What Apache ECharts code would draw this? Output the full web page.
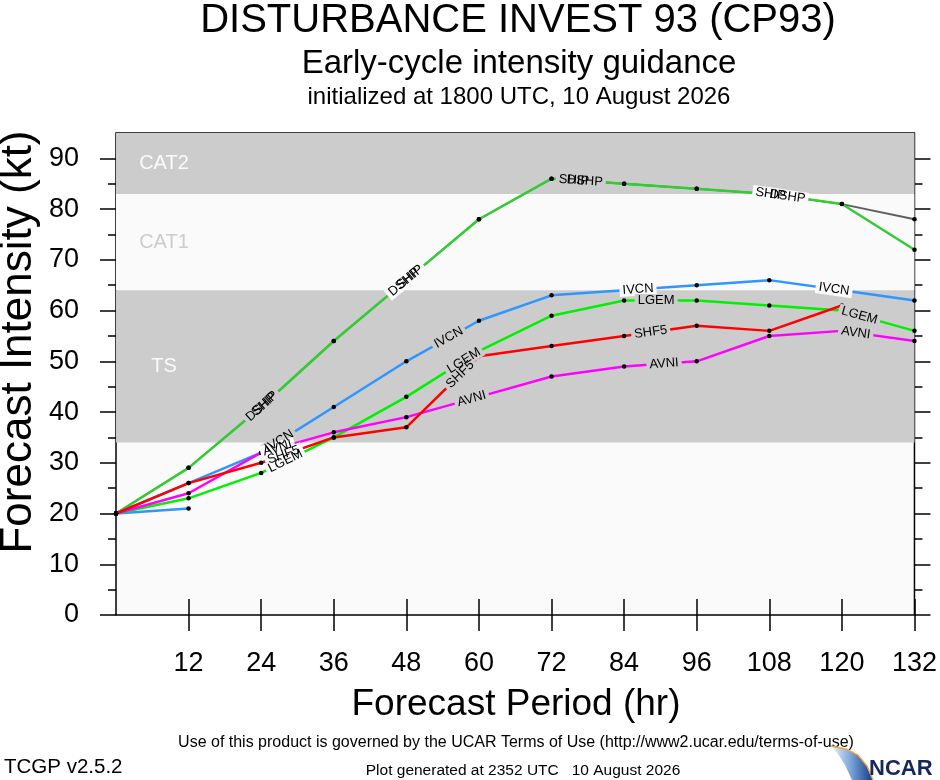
<!DOCTYPE html>
<html>
<head>
<meta charset="utf-8">
<script src="https://cdn.jsdelivr.net/npm/echarts@6/dist/echarts.min.js"></script>
<style>
html, body { margin: 0; padding: 0; background: #fff; }
#chart { width: 940px; height: 780px; }
</style>
</head>
<body>
<div id="chart"></div>
<script>
// forecast hours and model intensities (kt)
var hours = [0, 12, 24, 36, 48, 60, 72, 84, 96, 108, 120, 132];
var shipVals = [20, 29, 41, 54, 66, 78, 86, 85, 84, 83, 81, 78];
var dshpVals = [20, 29, 41, 54, 66, 78, 86, 85, 84, 83, 81, 72];
var ivcnVals = [20, 26, 32, 41, 50, 58, 63, 64, 65, 66, 64, 62];
var lgemVals = [20, 23, 28, 35, 43, 52, 59, 62, 62, 61, 60, 56];
var shf5Vals = [20, 26, 30, 35, 37, 51, 53, 55, 57, 56, 61, null];
var avniVals = [20, 24, 32, 36, 39, 43, 47, 49, 50, 55, 56, 54];
var shortVals = [20, 21];   // unlabeled blue line, 0-12 h only

var xTicks = [12, 24, 36, 48, 60, 72, 84, 96, 108, 120, 132];
var yMajor = [0, 10, 20, 30, 40, 50, 60, 70, 80, 90];
var yMinor = [5, 15, 25, 35, 45, 55, 65, 75, 85];

// intensity categories
var bandNames = ['CAT2', 'CAT1', 'TS'];
var bandLow = [83, 64, 34];
var bandHigh = [95, 83, 64];

var FONT = '"Liberation Sans", Arial, Helvetica, sans-serif';

var modelNames = ['SHIP', 'DSHP', 'IVCN', 'LGEM', 'SHF5', 'AVNI'];
var valsOf = { SHIP: shipVals, DSHP: dshpVals, IVCN: ivcnVals, LGEM: lgemVals, SHF5: shf5Vals, AVNI: avniVals };
var colorOf = { SHIP: '#5f5f5f', DSHP: '#33cc33', IVCN: '#2f95ff', LGEM: '#00f000', SHF5: '#ff0000', AVNI: '#ff00ff' };
// where along each line NCL put its name (forecast hour)
var labelAt = {
    SHIP: [24.6, 48.6, 75.7, 108.2],
    DSHP: [24, 47.6, 77.5, 111],
    IVCN: [27, 55, 86.3, 118.7],
    LGEM: [28, 57.5, 89.3, 122.9],
    SHF5: [27.7, 56.9, 88.4],
    AVNI: [26.7, 58.8, 90.6, 122.3]
};

function pairs(vals) {
    var out = [];
    for (var i = 0; i < vals.length; i++) {
        if (vals[i] != null) out.push([hours[i], vals[i]]);
    }
    return out;
}

function segIndex(h) {
    var i = 0;
    while (i < hours.length - 2 && hours[i + 1] <= h) i++;
    return i;
}

function valueAt(vals, h) {
    var i = segIndex(h);
    var t = (h - hours[i]) / (hours[i + 1] - hours[i]);
    return vals[i] + (vals[i + 1] - vals[i]) * t;
}

var labelData = [];
modelNames.forEach(function (m, k) {
    labelAt[m].forEach(function (h) {
        labelData.push([h, valueAt(valsOf[m], h), k]);
    });
});

function bandColor(v) {
    return ((v >= 34 && v < 64) || v >= 83) ? '#cccccc' : '#fafafa';
}

function labelRenderer(withText) {
    return function (params, api) {
        var h = api.value(0), v = api.value(1);
        var m = modelNames[api.value(2)];
        var vals = valsOf[m];
        var i = segIndex(h);
        var p1 = api.coord([hours[i], vals[i]]);
        var p2 = api.coord([hours[i + 1], vals[i + 1]]);
        var ang = -Math.atan2(p2[1] - p1[1], p2[0] - p1[0]);
        var p = api.coord([h, v]);
        return {
            type: 'text',
            x: p[0],
            y: p[1],
            rotation: ang,
            style: {
                text: m,
                font: '13px ' + FONT,
                fill: withText ? '#000' : 'rgba(0,0,0,0)',
                align: 'center',
                verticalAlign: 'middle',
                backgroundColor: withText ? null : bandColor(v),
                padding: [0, 3]
            }
        };
    };
}

var bandAreas = bandNames.map(function (name, i) {
    var gray = name !== 'CAT1';
    return [{
        name: name,
        yAxis: bandLow[i],
        itemStyle: { color: gray ? '#cccccc' : '#fafafa' },
        label: { color: gray ? '#fafafa' : '#cccccc' }
    }, { yAxis: bandHigh[i] }];
});

var series = [{
    type: 'line',
    data: [],
    z: 1,
    silent: true,
    markArea: {
        silent: true,
        label: {
            show: true,
            position: 'insideLeft',
            distance: 48,
            align: 'center',
            fontSize: 20,
            fontFamily: FONT
        },
        data: bandAreas
    }
}];

function lineSeries(name, vals, color, width) {
    return {
        name: name,
        type: 'line',
        data: pairs(vals),
        z: 2,
        symbol: 'circle',
        symbolSize: 4.5,
        showAllSymbol: true,
        itemStyle: { color: '#000' },
        lineStyle: { color: color, width: width || 2.5 },
        emphasis: { disabled: true },
        silent: true
    };
}

series.push(lineSeries('SHIP', shipVals, colorOf.SHIP, 1.8));
series.push(lineSeries('DSHP', dshpVals, colorOf.DSHP));
series.push(lineSeries('short', shortVals, colorOf.IVCN));
series.push(lineSeries('IVCN', ivcnVals, colorOf.IVCN));
series.push(lineSeries('LGEM', lgemVals, colorOf.LGEM));
series.push(lineSeries('AVNI', avniVals, colorOf.AVNI));
series.push(lineSeries('SHF5', shf5Vals, colorOf.SHF5));

series.push({
    type: 'custom',
    coordinateSystem: 'cartesian2d',
    renderItem: labelRenderer(false),
    data: labelData,
    encode: { x: 0, y: 1 },
    z: 3,
    silent: true,
    clip: false
});
series.push({
    type: 'custom',
    coordinateSystem: 'cartesian2d',
    renderItem: labelRenderer(true),
    data: labelData,
    encode: { x: 0, y: 1 },
    z: 4,
    silent: true,
    clip: false
});

function tick(values, len, label, pos) {
    return {
        type: 'value',
        min: 0,
        position: pos,
        axisLine: { show: false },
        splitLine: { show: false },
        axisTick: { show: true, inside: false, length: len, customValues: values, lineStyle: { color: '#000', width: 1.5 } },
        axisLabel: label
    };
}

var yLab = { show: true, customValues: yMajor, fontSize: 27, color: '#000', margin: 37, fontFamily: FONT };
var xLab = { show: true, customValues: xTicks, fontSize: 27, color: '#000', margin: 35, fontFamily: FONT };

var yAxes = [
    tick(yMajor, 16, yLab, 'left'),
    tick(yMinor, 8, { show: false }, 'left'),
    tick(yMajor, 16, { show: false }, 'right'),
    tick(yMinor, 8, { show: false }, 'right')
];
yAxes.forEach(function (a) { a.max = 95; });

var xAxes = [
    tick(xTicks, 16, xLab, 'bottom'),
    tick(xTicks, 16, { show: false }, 'top')
];
xAxes.forEach(function (a) { a.max = 132; });

function txt(x, y, text, size, extra) {
    var s = {
        text: text,
        font: size + 'px ' + FONT,
        fill: '#000',
        align: 'center',
        verticalAlign: 'middle'
    };
    var el = { type: 'text', x: x, y: y, style: s, z: 10 };
    if (extra) {
        for (var k in extra) {
            if (k === 'style') { for (var q in extra.style) s[q] = extra.style[q]; }
            else el[k] = extra[k];
        }
    }
    return el;
}

var graphics = [
    txt(518, 21, 'DISTURBANCE INVEST 93 (CP93)', 40),
    txt(519, 64, 'Early-cycle intensity guidance', 33),
    txt(519, 97, 'initialized at 1800 UTC, 10 August 2026', 24),
    txt(516, 705, 'Forecast Period (hr)', 37),
    txt(19, 342, 'Forecast Intensity (kt)', 44, { rotation: Math.PI / 2 }),
    txt(516, 743, 'Use of this product is governed by the UCAR Terms of Use (http://www2.ucar.edu/terms-of-use)', 16),
    txt(4, 767, 'TCGP v2.5.2', 20.5, { style: { align: 'left' } }),
    txt(523, 771, 'Plot generated at 2352 UTC   10 August 2026', 15.5),
    {
        type: 'polygon',
        shape: { points: [[831, 746], [846, 749], [858, 755], [867, 766], [873, 780], [852, 780], [845, 765], [838, 754]] },
        style: {
            fill: new echarts.graphic.LinearGradient(0, 0, 1, 0, [
                { offset: 0, color: '#eef4fb' },
                { offset: 0.45, color: '#7fa9dc' },
                { offset: 1, color: '#123a8c' }
            ])
        },
        z: 10
    },
    {
        type: 'polyline',
        shape: { points: [[831, 746], [846, 749], [858, 755], [867, 766], [873, 780]] },
        style: { stroke: '#f2a545', lineWidth: 1.5, fill: null },
        z: 10
    },
    txt(869, 769, 'NCAR', 22, { style: { align: 'left', fill: '#14285a', font: 'bold 22px ' + FONT } })
];

var option = {
    backgroundColor: '#ffffff',
    animation: false,
    textStyle: { fontFamily: FONT },
    grid: {
        left: 116,
        right: 23,
        top: 133,
        bottom: 165,
        show: true,
        backgroundColor: '#fafafa',
        borderColor: '#000',
        borderWidth: 1.5
    },
    xAxis: xAxes,
    yAxis: yAxes,
    series: series,
    graphic: graphics
};

var chart = echarts.init(document.getElementById('chart'));
chart.setOption(option);
</script>
</body>
</html>
